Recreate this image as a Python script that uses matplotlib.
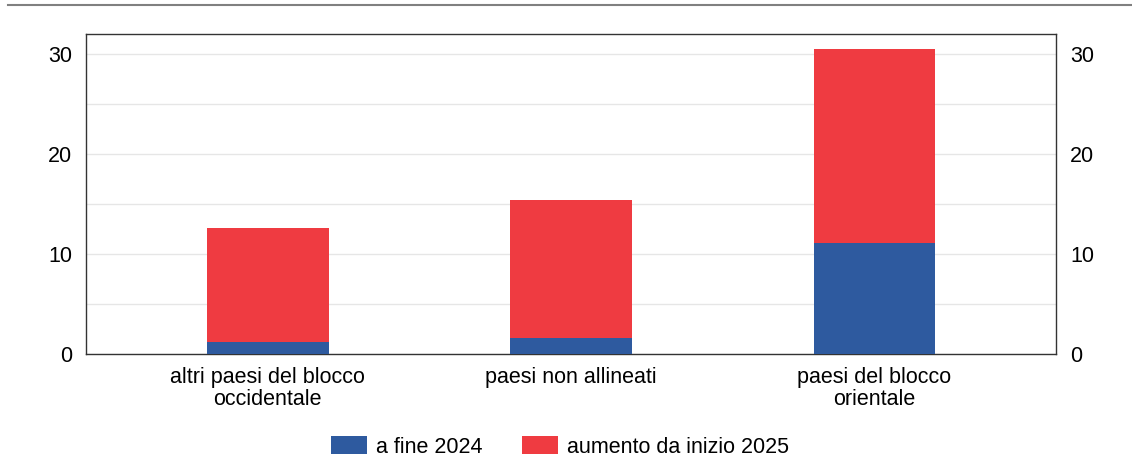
import matplotlib
matplotlib.use("Agg")
import matplotlib.pyplot as plt
from matplotlib.patches import Patch
import numpy as np

plt.rcParams['font.family'] = ['Liberation Sans', 'DejaVu Sans']

categories = ['altri paesi del blocco\noccidentale', 'paesi non allineati', 'paesi del blocco\norientale']
fine_2024 = [1.2, 1.6, 11.1]
aumento_2025 = [11.4, 13.8, 19.4]
series_labels = ['a fine 2024', 'aumento da inizio 2025']
yticks = [0, 10, 20, 30]

BLUE = '#2E5A9F'
RED = '#EF3B41'
FS = 15.5

fig = plt.figure(figsize=(11.32, 4.59), dpi=100)
ax = fig.add_axes([86 / 1132, 1 - 354 / 459, 970 / 1132, 320 / 459])

x = np.arange(len(categories))
width = 0.4
ax.bar(x, fine_2024, width, color=BLUE, zorder=3)
ax.bar(x, aumento_2025, width, bottom=fine_2024, color=RED, zorder=3)

ax.set_xlim(-0.6, 2.6)
ax.set_ylim(0, 32)
ax.set_yticks(yticks)
ax.set_yticks(np.arange(0, 32, 5), minor=True)
ax.grid(axis='y', which='both', color='#E6E6E6', linewidth=1, zorder=0)
ax.set_xticks(x)
ax.set_xticklabels(categories, fontsize=FS, linespacing=1.1)
ax.tick_params(axis='both', which='both', length=0)
ax.tick_params(axis='y', labelsize=FS, pad=10, labelright=True)
ax.tick_params(axis='x', pad=9)
for spine in ax.spines.values():
    spine.set_color('#333333')
    spine.set_linewidth(1)

# top rule
fig.add_artist(plt.Line2D([8 / 1132, 1131 / 1132], [1 - 5 / 459, 1 - 5 / 459],
                          color='#808080', linewidth=1.5))

handles = [Patch(facecolor=BLUE), Patch(facecolor=RED)]
fig.legend(handles, series_labels, loc='center', bbox_to_anchor=(560 / 1132, 1 - 447 / 459),
           ncol=2, frameon=False, fontsize=FS, handlelength=1.67, handleheight=0.85,
           columnspacing=1.8, handletextpad=0.42, borderpad=0.2)

fig.savefig('out.png', dpi=100)
